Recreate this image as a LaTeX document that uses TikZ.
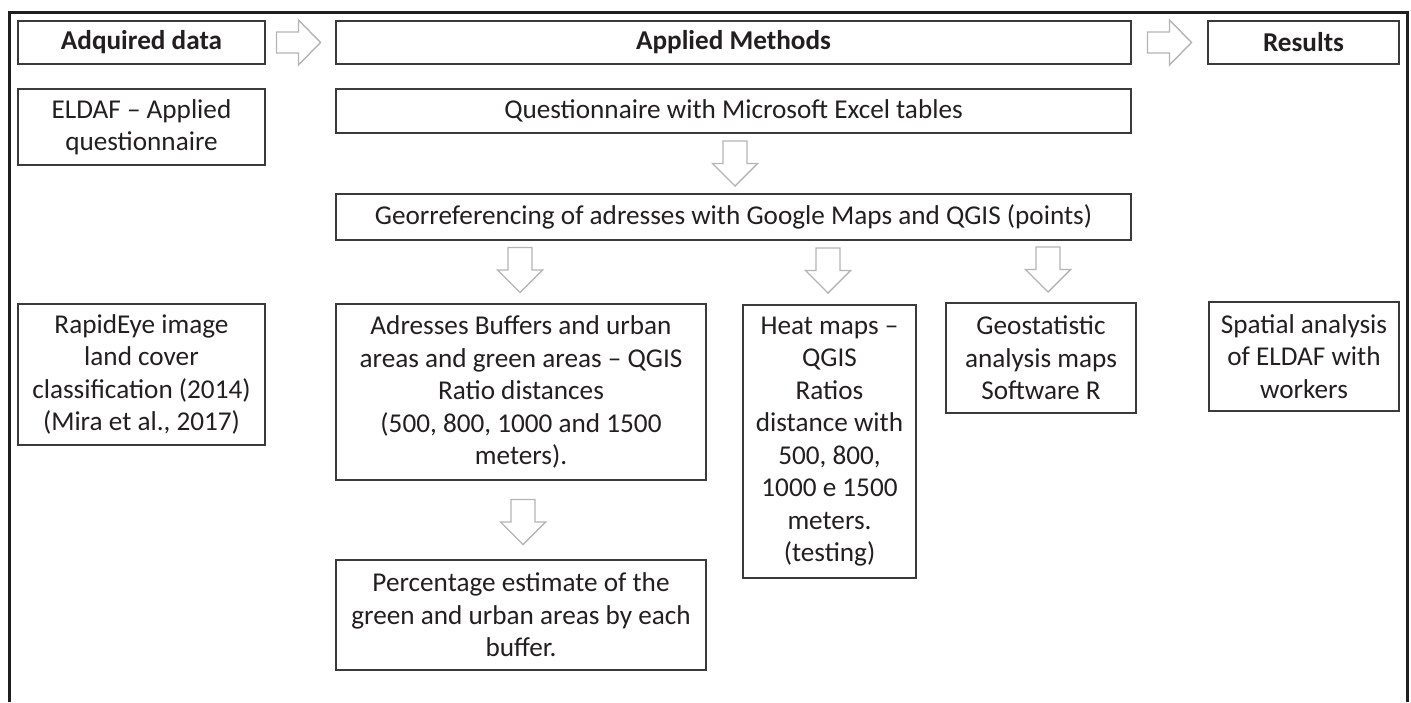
\documentclass[tikz,border=0pt]{standalone}
\usepackage{fontspec}
\setmainfont{Carlito}
\usetikzlibrary{calc}
\definecolor{ink}{HTML}{231F20}
\definecolor{boxline}{HTML}{3A3A3A}
\definecolor{arrowline}{HTML}{B4B4B4}
\begin{document}
\begin{tikzpicture}[x=1pt,y=-1pt,
  box/.style={draw=boxline, line width=1.4pt, inner sep=0pt, align=center,
    text=ink, font=\fontsize{27.2}{32.5}\selectfont},
  headbox/.style={box, font=\fontsize{27.2}{32.5}\selectfont\bfseries},
  blockarrow/.style={draw=arrowline, line width=1.4pt, fill=white, line join=miter},
  framestyle/.style={draw=black!88, line width=3pt},
  downblock/.pic={\path[blockarrow] (-12,-22.5) -- (12,-22.5) -- (12,0) -- (22.5,0)
      -- (0,22.5) -- (-22.5,0) -- (-12,0) -- cycle;},
  rightblock/.pic={\path[blockarrow] (-22,-10.5) -- (0,-10.5) -- (0,-22.5) -- (22,0)
      -- (0,22.5) -- (0,10.5) -- (-22,10.5) -- cycle;}]
\useasboundingbox (0,0) rectangle (1411,702);

% outer frame, open at the bottom
\path[framestyle] (9,702) -- (9,12.5) -- (1407,12.5) -- (1407,702);

% column headers
\node[headbox, minimum width=247, minimum height=43] (hdata) at (141.5,42.5) {Adquired data};
\node[headbox, minimum width=795, minimum height=43] (hmeth) at (733.5,42.5) {Applied Methods};
\node[headbox, minimum width=191, minimum height=43] (hres)  at (1303.5,42.5) {Results};

% acquired data
\node[box, minimum width=247, minimum height=76] (eldaf) at (141.5,127) {ELDAF – Applied\\questionnaire};
\node[box, minimum width=247, minimum height=141] (rapid) at (141.5,374.5)
  {RapidEye image\\land cover\\classification (2014)\\(Mira et al., 2017)};

% applied methods
\node[box, minimum width=795, minimum height=44] (quest) at (733.5,111) {Questionnaire with Microsoft Excel tables};
\node[box, minimum width=795, minimum height=46] (geo) at (733.5,217)
  {Georreferencing of adresses with Google Maps and QGIS (points)};
\node[box, minimum width=370, minimum height=176] (buff) at (521,392)
  {Adresses Buffers and urban\\areas and green areas – QGIS\\Ratio distances\\(500, 800, 1000 and 1500\\meters).};
\node[box, minimum width=370, minimum height=110] (perc) at (521,615)
  {Percentage estimate of the\\green and urban areas by each\\buffer.};
\node[box, minimum width=173, minimum height=273] (heat) at (829.5,441.5)
  {Heat maps –\\QGIS\\Ratios\\distance with\\500, 800,\\1000 e 1500\\meters.\\(testing)};
\node[box, minimum width=190, minimum height=110] (geost) at (1041,358)
  {Geostatistic\\analysis maps\\Software R};

% results
\node[box, minimum width=190, minimum height=109] (spat) at (1304,356.5)
  {Spatial analysis\\of ELDAF with\\workers};

% block arrows between the boxes
\pic at ($(hdata.east)!0.5!(hmeth.west)+(-2,0)$) {rightblock};
\pic at ($(hmeth.east)!0.5!(hres.west)$) {rightblock};
\pic at ($(quest.south)!0.5!(geo.north)+(1.5,0)$) {downblock};
\pic at ($(buff.north)!0.5!(buff.north |- geo.south)+(-1,-2)$) {downblock};
\pic at ($(heat.north)!0.5!(heat.north |- geo.south)+(-1.5,-2)$) {downblock};
\pic at ($(geost.north)!0.5!(geost.north |- geo.south)+(7,-2)$) {downblock};
\pic at ($(buff.south)!0.5!(perc.north)+(2,2)$) {downblock};
\end{tikzpicture}
\end{document}
